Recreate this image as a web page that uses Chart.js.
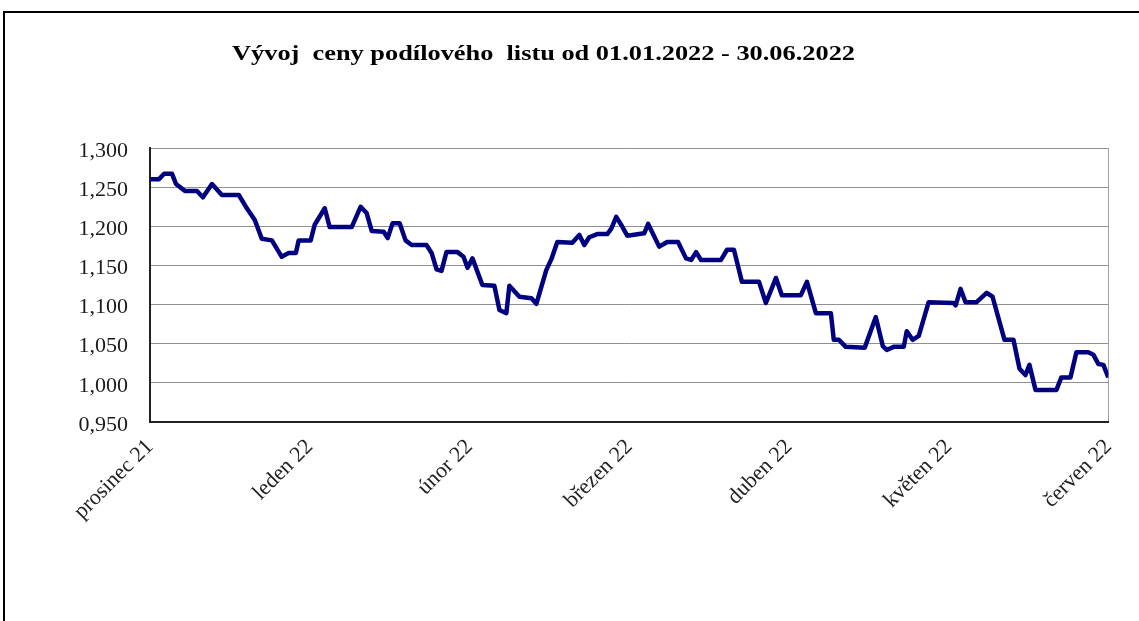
<!DOCTYPE html>
<html>
<head>
<meta charset="utf-8">
<script src="https://cdn.jsdelivr.net/npm/chart.js@4"></script>
<style>
  html, body { margin: 0; padding: 0; background: #fff; }
  body { width: 1139px; height: 621px; position: relative; overflow: hidden; }
  #frame {
    position: absolute; left: 3px; top: 11px; width: 1200px; height: 700px;
    border-top: 2px solid #000; border-left: 2px solid #000;
  }
  #chart { position: absolute; left: 0; top: 0; }
</style>
</head>
<body>
<div id="frame"></div>
<canvas id="chart" width="1139" height="621"></canvas>
<script>
// x axis month labels (one per month tick)
const monthLabels = ["prosinec 21", "leden 22", "únor 22", "březen 22", "duben 22", "květen 22", "červen 22"];

// position of each vertex along the axis, in months from "prosinec 21"
const pointPos = [
    0.000, 0.056, 0.088, 0.138, 0.163, 0.219, 0.294, 0.331, 0.388, 0.450,
    0.556, 0.600, 0.656, 0.700, 0.763, 0.825, 0.869, 0.913, 0.931, 1.006,
    1.031, 1.094, 1.125, 1.263, 1.319, 1.356, 1.388, 1.463, 1.488, 1.519,
    1.563, 1.600, 1.638, 1.731, 1.763, 1.794, 1.825, 1.856, 1.925, 1.963,
    1.988, 2.019, 2.081, 2.156, 2.188, 2.231, 2.250, 2.313, 2.388, 2.419,
    2.481, 2.513, 2.550, 2.644, 2.688, 2.719, 2.750, 2.800, 2.863, 2.888,
    2.919, 2.950, 2.988, 3.094, 3.119, 3.188, 3.238, 3.306, 3.356, 3.388,
    3.419, 3.450, 3.575, 3.613, 3.656, 3.706, 3.813, 3.856, 3.919, 3.956,
    4.075, 4.113, 4.169, 4.263, 4.281, 4.313, 4.356, 4.475, 4.544, 4.588,
    4.613, 4.656, 4.719, 4.738, 4.775, 4.813, 4.875, 5.031, 5.044, 5.075,
    5.106, 5.175, 5.238, 5.275, 5.350, 5.406, 5.444, 5.481, 5.506, 5.544,
    5.675, 5.706, 5.763, 5.800, 5.875, 5.906, 5.938, 5.969, 6.000
];

// price of the unit (podílový list) at each vertex
const priceValues = [
    1.260, 1.260, 1.267, 1.267, 1.254, 1.245, 1.245, 1.237, 1.254, 1.240,
    1.240, 1.225, 1.208, 1.184, 1.182, 1.161, 1.166, 1.166, 1.182, 1.182,
    1.202, 1.223, 1.199, 1.199, 1.225, 1.217, 1.194, 1.193, 1.185, 1.204,
    1.204, 1.182, 1.176, 1.176, 1.166, 1.145, 1.143, 1.167, 1.167, 1.161,
    1.147, 1.159, 1.125, 1.124, 1.093, 1.089, 1.124, 1.110, 1.108, 1.101,
    1.144, 1.158, 1.180, 1.179, 1.189, 1.176, 1.186, 1.190, 1.190, 1.197,
    1.212, 1.202, 1.188, 1.191, 1.203, 1.174, 1.180, 1.180, 1.159, 1.157,
    1.167, 1.157, 1.157, 1.170, 1.170, 1.129, 1.129, 1.102, 1.134, 1.112,
    1.112, 1.129, 1.089, 1.089, 1.055, 1.055, 1.046, 1.045, 1.084, 1.047,
    1.042, 1.046, 1.046, 1.066, 1.055, 1.060, 1.103, 1.102, 1.099, 1.120,
    1.103, 1.103, 1.115, 1.110, 1.055, 1.055, 1.018, 1.010, 1.023, 0.991,
    0.991, 1.007, 1.007, 1.039, 1.039, 1.036, 1.024, 1.023, 1.007
];

const titleText = "Vývoj  ceny podílového  listu od 01.01.2022 - 30.06.2022";

// title is drawn wide like in the original (stretched serif)
const titlePlugin = {
    id: "wideTitle",
    afterDraw(chart) {
        const ctx = chart.ctx;
        ctx.save();
        ctx.font = "bold 22px 'Liberation Serif', 'Times New Roman', serif";
        ctx.fillStyle = "#000";
        ctx.textBaseline = "alphabetic";
        const w = ctx.measureText(titleText).width;
        ctx.translate(232, 60);
        ctx.scale(623 / w, 1);
        ctx.fillText(titleText, 0, 0);
        ctx.restore();
    }
};

const points = pointPos.map((x, i) => ({ x: x, y: priceValues[i] }));

const tickFont = { family: "'Liberation Serif', 'Times New Roman', serif", size: 22 };

new Chart(document.getElementById("chart").getContext("2d"), {
    type: "line",
    data: {
        datasets: [{
            label: "cena",
            data: points,
            borderColor: "#000080",
            borderWidth: 4.5,
            pointRadius: 0,
            tension: 0,
            fill: false,
            borderJoinStyle: "round"
        }]
    },
    options: {
        responsive: false,
        animation: false,
        layout: { padding: { top: 148, right: 27, left: 0, bottom: 0 } },
        plugins: {
            legend: { display: false },
            tooltip: { enabled: false },
            title: { display: false }
        },
        scales: {
            x: {
                type: "linear",
                min: 0,
                max: 6,
                afterFit: s => { s.height = 199; },
                ticks: {
                    stepSize: 1,
                    autoSkip: false,
                    maxRotation: 45,
                    minRotation: 45,
                    padding: 12,
                    color: "#222",
                    font: tickFont,
                    callback: v => monthLabels[v]
                },
                grid: {
                    drawTicks: false,
                    color: c => (c.tick && c.tick.value === 6) ? "#a0a0a0" : "rgba(0,0,0,0)"
                },
                border: { color: "#222", width: 2 }
            },
            y: {
                min: 0.95,
                max: 1.3,
                afterFit: s => { s.width = 150; },
                ticks: {
                    stepSize: 0.05,
                    padding: 22,
                    labelOffset: 3,
                    color: "#1a1a1a",
                    font: tickFont,
                    callback: v => v.toFixed(3).replace(".", ",")
                },
                grid: { drawTicks: false, color: "#909090", lineWidth: 1 },
                border: { color: "#222", width: 2 }
            }
        }
    },
    plugins: [titlePlugin]
});
</script>
</body>
</html>
